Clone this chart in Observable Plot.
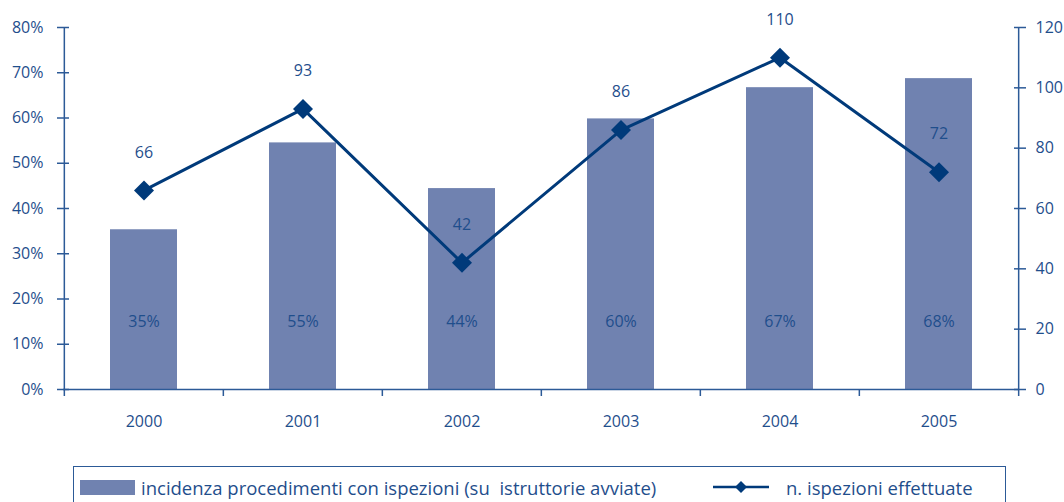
<!DOCTYPE html>
<html>
<head>
<meta charset="utf-8">
<script src="https://cdn.jsdelivr.net/npm/d3@7"></script>
<script src="https://cdn.jsdelivr.net/npm/@observablehq/plot@0.6"></script>
<style>
  html, body { margin: 0; padding: 0; background: #fff; }
  body { width: 1064px; height: 502px; overflow: hidden; font-family: "Open Sans", sans-serif; }
  #chart svg { display: block; }
  #legend {
    position: relative;
    margin-left: 73px;
    margin-top: 20px;
    width: 933px;
    height: 44px;
    box-sizing: border-box;
    border: 1.5px solid #2c5a97;
    font-size: 18.5px;
    color: #1f4e8c;
  }
  .item { position: absolute; top: 8px; display: flex; align-items: center; height: 24px; white-space: pre; }
  .swatch { width: 55px; height: 15px; background: #7082b0; margin-right: 6px; }
</style>
</head>
<body>
<div id="chart"></div>
<div id="legend">
  <div class="item" style="left:6px"><span class="swatch"></span><span>incidenza procedimenti con ispezioni (su  istruttorie avviate)</span></div>
  <div class="item" style="left:638px">
    <svg width="58" height="20" style="margin-right:16px">
      <line x1="1" x2="57" y1="10" y2="10" stroke="#003a7a" stroke-width="2.5"></line>
      <path d="M29,4 L35,10 L29,16 L23,10 Z" fill="#003a7a"></path>
    </svg>
    <span>n. ispezioni effettuate</span>
  </div>
</div>
<script>
const years = ["2000", "2001", "2002", "2003", "2004", "2005"];
const incidenza = [35.3, 54.5, 44.4, 59.8, 66.7, 68.7];
const incidenzaLabels = ["35%", "55%", "44%", "60%", "67%", "68%"];
const ispezioni = [66, 93, 42, 86, 110, 72];
const leftTicks = [0, 10, 20, 30, 40, 50, 60, 70, 80];
const rightTicks = [0, 20, 40, 60, 80, 100, 120];

const barColor = "#7082b0";
const lineColor = "#003a7a";
const textColor = "#1f4e8c";
const axisColor = "#2c5a97";

const leftMax = 80, rightMax = 120;
const toLeft = v => v * leftMax / rightMax;

const bars = years.map((y, i) => ({year: y, pct: incidenza[i], label: incidenzaLabels[i]}));
const line = years.map((y, i) => ({year: y, n: ispezioni[i]}));

const W = 1064, H = 446, mL = 63, mR = 45, mT = 27, mB = 57;
const step = (W - mL - mR) / years.length;

const chart = Plot.plot({
  width: W, height: H,
  marginLeft: mL, marginRight: mR, marginTop: mT, marginBottom: mB,
  style: {fontFamily: "Open Sans, sans-serif", fontSize: "16px", color: textColor, background: "#fff"},
  x: {domain: years, paddingInner: 0.58, paddingOuter: 0.29},
  y: {domain: [0, leftMax]},
  marks: [
    Plot.barY(bars, {x: "year", y: "pct", fill: barColor}),
    Plot.text(bars, {x: "year", text: "label", frameAnchor: "bottom", dy: -63, fill: textColor}),
    Plot.ruleY([0], {stroke: axisColor, strokeWidth: 1.5}),
    Plot.ruleX(years, {x: d => d, dx: -step / 2, y1: 0, y2: 0, insetBottom: -7, stroke: axisColor, strokeWidth: 1.5}),
    Plot.ruleX([years[years.length - 1]], {x: d => d, dx: step / 2, y1: 0, y2: 0, insetBottom: -7, stroke: axisColor, strokeWidth: 1.5}),
    Plot.ruleX([years[0]], {x: d => d, dx: -step / 2, y1: 0, y2: leftMax, stroke: axisColor, strokeWidth: 1.5}),
    Plot.ruleX([years[years.length - 1]], {x: d => d, dx: step / 2, y1: 0, y2: leftMax, stroke: axisColor, strokeWidth: 1.5}),
    Plot.axisY(leftTicks, {anchor: "left", tickSize: 12, dx: 6, tickPadding: 14, tickFormat: d => d + "%", stroke: axisColor, strokeWidth: 1.5, fill: textColor, label: null}),
    Plot.axisY(rightTicks.map(toLeft), {anchor: "right", tickSize: 12, dx: -6, tickPadding: 10, tickFormat: d => String(Math.round(d * rightMax / leftMax)), stroke: axisColor, strokeWidth: 1.5, fill: textColor, label: null}),
    Plot.axisX({tickSize: 0, tickPadding: 26, fill: textColor, label: null}),
    Plot.line(line, {x: "year", y: d => toLeft(d.n), stroke: lineColor, strokeWidth: 3}),
    Plot.dot(line, {x: "year", y: d => toLeft(d.n), symbol: "diamond2", r: 9, fill: lineColor, stroke: "none"}),
    Plot.text(line, {x: "year", y: d => toLeft(d.n), text: d => String(d.n), dy: -38, fill: textColor})
  ]
});
document.getElementById("chart").append(chart);
</script>
</body>
</html>
